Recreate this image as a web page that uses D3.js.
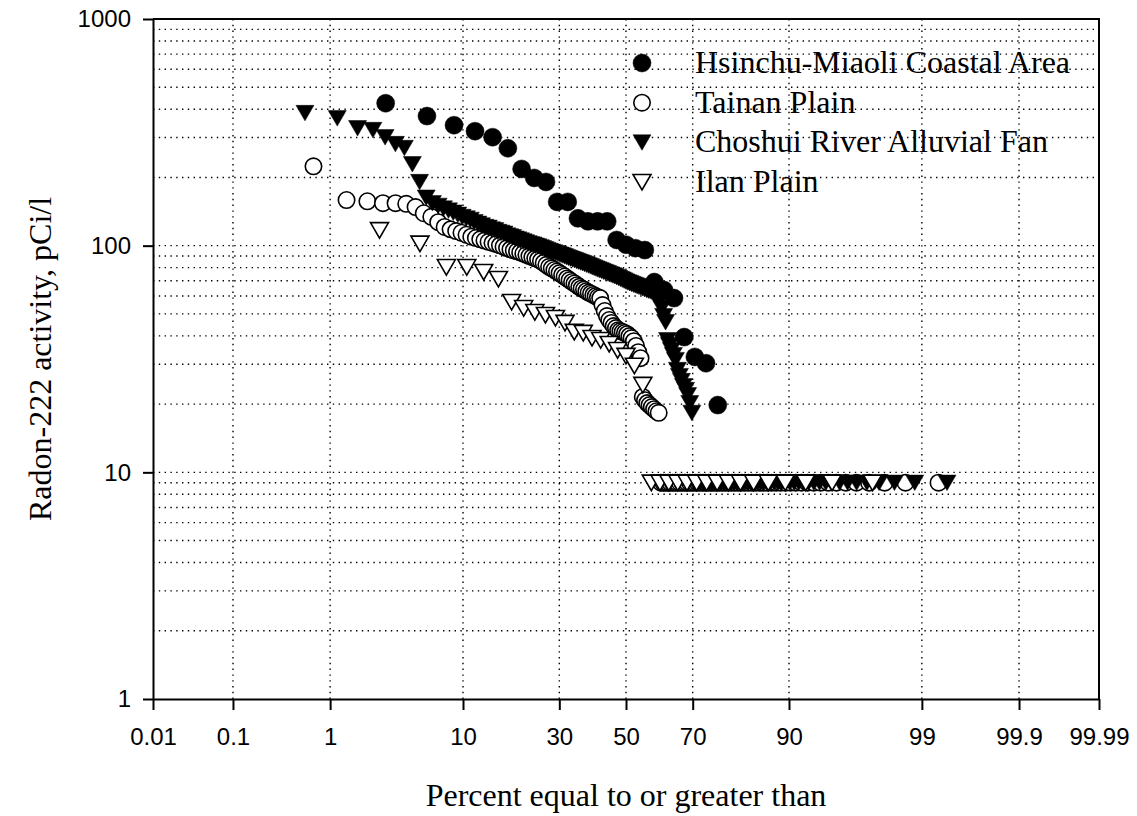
<!DOCTYPE html>
<html>
<head>
<meta charset="utf-8">
<script src="https://cdn.jsdelivr.net/npm/d3@7"></script>
<style>
  html, body { margin: 0; padding: 0; background: #fff; }
  svg { display: block; }
</style>
</head>
<body>
<div id="chart"></div>
<script>
// ---- data ----
var xTickValues = [0.01, 0.1, 1, 10, 30, 50, 70, 90, 99, 99.9, 99.99];
var xTickLabels = ["0.01", "0.1", "1", "10", "30", "50", "70", "90", "99", "99.9", "99.99"];
var xGridValues = [0.1, 1, 10, 30, 50, 70, 90, 99, 99.9];
var yTickValues = [1, 10, 100, 1000];
var seriesNames = ["Hsinchu-Miaoli Coastal Area", "Tainan Plain", "Choshui River Alluvial Fan", "Ilan Plain"];

// samples below the reporting level are plotted at this value
var belowLimitValue = 9;

var hsinchuPct = [2.94, 5.88, 8.82, 11.76, 14.71, 17.65, 20.59, 23.53, 26.47, 29.41, 32.35, 35.29, 38.24,
  41.18, 44.12, 47.06, 50.00, 52.94, 55.88, 58.82, 61.76, 64.71, 67.65, 70.59, 73.53, 76.47];
var hsinchuVal = [425, 373, 340, 320, 301, 269, 218, 199, 191, 156, 156, 132, 128,
  128, 128, 106, 101, 97.5, 95.6, 69.1, 63.7, 58.7, 39.5, 32.3, 30.3, 19.8];

var tainanPct = [0.70, 1.40, 2.10, 2.80, 3.50, 4.20, 4.90, 5.59, 6.29, 6.99, 7.69, 8.39, 9.09, 9.79,
  10.49, 11.19, 11.89, 12.59, 13.29, 13.99, 14.69, 15.38, 16.08, 16.78, 17.48, 18.18, 18.88, 19.58,
  20.28, 20.98, 21.68, 22.38, 23.08, 23.78, 24.48, 25.17, 25.87, 26.57, 27.27, 27.97, 28.67, 29.37,
  30.07, 30.77, 31.47, 32.17, 32.87, 33.57, 34.27, 34.97, 35.66, 36.36, 37.06, 37.76, 38.46, 39.16,
  39.86, 40.56, 41.26, 41.96, 42.66, 43.36, 44.06, 44.76, 45.45, 46.15, 46.85, 47.55, 48.25, 48.95,
  49.65, 50.35, 51.05, 51.75, 52.45, 53.15, 53.85, 54.55, 55.24, 55.94, 56.64, 57.34, 58.04, 58.74,
  59.44, 60.14];
var tainanVal = [224, 159, 157, 154, 154, 153, 148, 139, 134, 127, 121, 118, 116, 114,
  111.7, 109.6, 108.1, 106.7, 105.3, 104.0, 102.8, 101.6, 100.3, 99.0, 97.6, 96.3, 95.3, 94.4,
  93.4, 92.3, 91.1, 90.0, 89.0, 87.9, 86.9, 85.6, 83.9, 82.3, 80.7, 79.4, 78.1, 76.9,
  75.7, 74.3, 73.1, 71.7, 70.5, 69.2, 68.1, 66.9, 65.8, 64.8, 64.0, 63.0, 62.1, 61.4,
  60.6, 59.9, 59.2, 58.7, 54.7, 51.5, 48.9, 47.0, 45.6, 44.2, 43.3, 42.4, 42.0, 41.6,
  41.2, 40.7, 39.9, 39.1, 37.9, 36.1, 33.9, 31.9, 21.5, 20.8, 20.2, 19.8, 19.4, 19.0,
  18.6, 18.3];
var tainanLowPct = [60.84, 61.54, 62.24, 62.94, 63.64, 64.34, 65.03, 65.73, 66.43, 67.13, 67.83,
  68.53, 69.23, 69.93, 70.63, 71.33, 72.03, 72.73, 73.43, 74.13, 74.83, 75.52, 76.22, 76.92, 77.62,
  78.32, 79.02, 79.72, 80.42, 81.12, 81.82, 82.52, 83.22, 83.92, 84.62, 85.31, 86.01, 86.71, 87.41,
  88.11, 88.81, 89.51, 90.21, 90.91, 91.61, 92.31, 93.01, 93.71, 94.41, 95.10, 95.80, 96.50, 97.20,
  97.90, 98.60, 99.30];

var choshuiPct = [0.58, 1.16, 1.74, 2.33, 2.91, 3.49, 4.07, 4.65, 5.23, 5.81, 6.40, 6.98, 7.56, 8.14,
  8.72, 9.30, 9.88, 10.47, 11.05, 11.63, 12.21, 12.79, 13.37, 13.95, 14.53, 15.12, 15.70, 16.28,
  16.86, 17.44, 18.02, 18.60, 19.19, 19.77, 20.35, 20.93, 21.51, 22.09, 22.67, 23.26, 23.84, 24.42,
  25.00, 25.58, 26.16, 26.74, 27.33, 27.91, 28.49, 29.07, 29.65, 30.23, 30.81, 31.40, 31.98, 32.56,
  33.14, 33.72, 34.30, 34.88, 35.47, 36.05, 36.63, 37.21, 37.79, 38.37, 38.95, 39.53, 40.12, 40.70,
  41.28, 41.86, 42.44, 43.02, 43.60, 44.19, 44.77, 45.35, 45.93, 46.51, 47.09, 47.67, 48.26, 48.84,
  49.42, 50.00, 50.58, 51.16, 51.74, 52.33, 52.91, 53.49, 54.07, 54.65, 55.23, 55.81, 56.40, 56.98,
  57.56, 58.14, 58.72, 59.30, 59.88, 60.47, 61.05, 61.63, 62.21, 62.79, 63.37, 63.95, 64.53, 65.12,
  65.70, 66.28, 66.86, 67.44, 68.02, 68.60, 69.19, 69.77];
var choshuiVal = [385, 365, 330, 324, 301, 281, 270, 229, 191, 163, 154, 150, 146, 143,
  140, 137, 134, 132, 130, 127, 125, 123, 121, 120, 118, 117, 115, 114,
  113, 111, 110, 109, 107.5, 106.5, 105.5, 104.5, 103.5, 102.5, 101.5, 101, 100, 99.3,
  98.4, 97.5, 96.6, 95.7, 94.8, 94.1, 93.4, 92.7, 92.0, 91.3, 90.6, 89.9, 89.1, 88.4,
  87.7, 87.0, 86.4, 85.7, 85.1, 84.4, 83.8, 83.2, 82.5, 81.8, 81.2, 80.5, 79.9, 79.2,
  78.6, 78.0, 77.4, 76.8, 76.2, 75.6, 75.0, 74.5, 73.9, 73.4, 72.7, 72.1, 71.4, 70.8,
  70.2, 69.5, 68.9, 68.4, 67.9, 67.4, 66.9, 66.4, 65.9, 65.4, 64.9, 64.4, 63.9, 63.4,
  63.1, 62.4, 61.2, 59.9, 58.7, 56.9, 53.0, 48.9, 46.0, 38.3, 36.4, 34.6, 32.9, 31.3,
  28.3, 26.6, 25.3, 24.0, 23.1, 21.9, 20.2, 18.3];
var choshuiLowPct = [70.35, 70.93, 71.51, 72.09, 72.67, 73.26, 73.84, 74.42, 75.00, 75.58, 76.16,
  76.74, 77.33, 77.91, 78.49, 79.07, 79.65, 80.23, 80.81, 81.40, 81.98, 82.56, 83.14, 83.72, 84.30,
  84.88, 85.47, 86.05, 86.63, 87.21, 87.79, 88.37, 88.95, 89.53, 90.12, 90.70, 91.28, 91.86, 92.44,
  93.02, 93.60, 94.19, 94.77, 95.35, 95.93, 96.51, 97.09, 97.67, 98.26, 98.84, 99.42];

var ilanPct = [2.63, 5.26, 7.89, 10.53, 13.16, 15.79, 18.42, 21.05, 23.68, 26.32, 28.95, 31.58,
  34.21, 36.84, 39.47, 42.11, 44.74, 47.37, 50.00, 52.63, 55.26];
var ilanVal = [117, 102, 80.4, 80.4, 76.5, 71.2, 56.4, 53.0, 50.9, 49.4, 47.9, 45.6,
  41.6, 41.2, 39.1, 38.3, 36.8, 34.6, 32.6, 29.5, 24.3];
var ilanLowPct = [57.89, 60.53, 63.16, 65.79, 68.42, 71.05, 73.68, 76.32, 78.95, 81.58, 84.21,
  86.84, 89.47, 92.11, 94.74, 97.37];

// ---- normal probability scale ----
// inverse normal CDF (Acklam's rational approximation)
function probit(p) {
  var a = [-39.69683028665376, 220.9460984245205, -275.9285104469687, 138.3577518672690, -30.66479806614716, 2.506628277459239];
  var b = [-54.47609879822406, 161.5858368580409, -155.6989798598866, 66.80131188771972, -13.28068155288572];
  var c = [-0.007784894002430293, -0.3223964580411365, -2.400758277161838, -2.549732539343734, 4.374664141464968, 2.938163982698783];
  var d = [0.007784695709041462, 0.3224671290700398, 2.445134137142996, 3.754408661907416];
  var q, r;
  if (p < 0.02425) {
    q = Math.sqrt(-2 * Math.log(p));
    return (((((c[0] * q + c[1]) * q + c[2]) * q + c[3]) * q + c[4]) * q + c[5]) /
      ((((d[0] * q + d[1]) * q + d[2]) * q + d[3]) * q + 1);
  }
  if (p > 1 - 0.02425) {
    q = Math.sqrt(-2 * Math.log(1 - p));
    return -(((((c[0] * q + c[1]) * q + c[2]) * q + c[3]) * q + c[4]) * q + c[5]) /
      ((((d[0] * q + d[1]) * q + d[2]) * q + d[3]) * q + 1);
  }
  q = p - 0.5;
  r = q * q;
  return (((((a[0] * r + a[1]) * r + a[2]) * r + a[3]) * r + a[4]) * r + a[5]) * q /
    (((((b[0] * r + b[1]) * r + b[2]) * r + b[3]) * r + b[4]) * r + 1);
}

// percent -> pixel, shaped like a d3 scale so d3.axis can use it
function scaleProbability() {
  var lin = d3.scaleLinear(), dom = [50, 50];
  function scale(pct) { return lin(probit(pct / 100)); }
  scale.domain = function(_) {
    if (!arguments.length) return dom.slice();
    dom = _.slice();
    lin.domain(dom.map(function(p) { return probit(p / 100); }));
    return scale;
  };
  scale.range = function(_) {
    if (!arguments.length) return lin.range();
    lin.range(_);
    return scale;
  };
  scale.copy = function() { return scaleProbability().domain(dom).range(lin.range()); };
  return scale;
}

// ---- layout ----
var W = 1137, H = 816;
var margin = { top: 19, right: 38, bottom: 117, left: 153 };
var x0 = margin.left, x1 = W - margin.right, y0 = margin.top, y1 = H - margin.bottom;

var x = scaleProbability().domain([0.01, 99.99]).range([x0, x1]);
var y = d3.scaleLog().domain([1, 1000]).range([y1, y0]);

var svg = d3.select("#chart").append("svg")
  .attr("width", W)
  .attr("height", H);

// grid
var yGridValues = [];
[1, 10, 100].forEach(function(dec) {
  for (var k = 2; k <= 9; k++) yGridValues.push(dec * k);
  if (dec > 1) yGridValues.push(dec);
});

var grid = svg.append("g")
  .attr("stroke", "#000")
  .attr("stroke-width", 1.4)
  .attr("stroke-dasharray", "1.4,4.4");

grid.selectAll(".vg").data(xGridValues).enter().append("line")
  .attr("x1", function(d) { return x(d); })
  .attr("x2", function(d) { return x(d); })
  .attr("y1", y0)
  .attr("y2", y1);

grid.selectAll(".hg").data(yGridValues).enter().append("line")
  .attr("x1", x0)
  .attr("x2", x1)
  .attr("y1", function(d) { return y(d); })
  .attr("y2", function(d) { return y(d); });

// markers
var triDown = "M-9,-7.6L9,-7.6L0,7.9Z";

function plotCircles(pts, filled) {
  svg.append("g").selectAll("circle").data(pts).enter().append("circle")
    .attr("cx", function(d) { return x(d[0]); })
    .attr("cy", function(d) { return y(d[1]); })
    .attr("r", filled ? 9 : 8.2)
    .attr("fill", filled ? "#000" : "#fff")
    .attr("stroke", "#000")
    .attr("stroke-width", filled ? 0.5 : 1.6);
}

function plotTriangles(pts, filled) {
  svg.append("g").selectAll("path").data(pts).enter().append("path")
    .attr("d", triDown)
    .attr("transform", function(d) { return "translate(" + x(d[0]) + "," + y(d[1]) + ")"; })
    .attr("fill", filled ? "#000" : "#fff")
    .attr("stroke", "#000")
    .attr("stroke-width", filled ? 0.5 : 1.6)
    .attr("stroke-linejoin", "miter");
}

function withLow(pct, val, lowPct) {
  var pts = d3.zip(pct, val);
  (lowPct || []).forEach(function(p) { pts.push([p, belowLimitValue]); });
  return pts;
}

plotCircles(withLow(hsinchuPct, hsinchuVal), true);
plotCircles(withLow(tainanPct, tainanVal, tainanLowPct), false);
plotTriangles(withLow(choshuiPct, choshuiVal, choshuiLowPct), true);
plotTriangles(withLow(ilanPct, ilanVal, ilanLowPct), false);

// axes
var xAxis = svg.append("g")
  .attr("transform", "translate(0," + y1 + ")")
  .call(d3.axisBottom(x)
    .tickValues(xTickValues)
    .tickFormat(function(d, i) { return xTickLabels[i]; })
    .tickSizeInner(11)
    .tickSizeOuter(0)
    .tickPadding(18));

var yAxis = svg.append("g")
  .attr("transform", "translate(" + x0 + ",0)")
  .call(d3.axisLeft(y)
    .tickValues(yTickValues)
    .tickFormat(d3.format("d"))
    .tickSizeInner(10)
    .tickSizeOuter(0)
    .tickPadding(12));

[xAxis, yAxis].forEach(function(a) {
  a.attr("font-family", "'Liberation Sans', Arial, sans-serif").attr("font-size", 24);
  a.selectAll("path, line").attr("stroke", "#000").attr("stroke-width", 2);
  a.selectAll("text").attr("fill", "#000");
});

// frame (top + right)
svg.append("path")
  .attr("d", "M" + x0 + "," + y0 + "H" + x1 + "V" + y1)
  .attr("fill", "none")
  .attr("stroke", "#000")
  .attr("stroke-width", 2);

// axis titles
svg.append("text")
  .attr("x", (x0 + x1) / 2)
  .attr("y", 806)
  .attr("text-anchor", "middle")
  .attr("font-family", "'Liberation Serif', 'Times New Roman', serif")
  .attr("font-size", 32)
  .text("Percent equal to or greater than");

svg.append("text")
  .attr("transform", "translate(51," + ((y0 + y1) / 2) + ") rotate(-90)")
  .attr("text-anchor", "middle")
  .attr("font-family", "'Liberation Serif', 'Times New Roman', serif")
  .attr("font-size", 32)
  .text("Radon-222 activity, pCi/l");

// legend
var legend = svg.append("g").attr("transform", "translate(642,63)");
var legendRows = legend.selectAll("g").data(seriesNames).enter().append("g")
  .attr("transform", function(d, i) { return "translate(0," + (i * 39.7) + ")"; });

legendRows.each(function(d, i) {
  var row = d3.select(this);
  if (i < 2) {
    row.append("circle").attr("r", i === 0 ? 9 : 8.2)
      .attr("fill", i === 0 ? "#000" : "#fff")
      .attr("stroke", "#000").attr("stroke-width", i === 0 ? 0.5 : 1.6);
  } else {
    row.append("path").attr("d", triDown)
      .attr("fill", i === 2 ? "#000" : "#fff")
      .attr("stroke", "#000").attr("stroke-width", i === 2 ? 0.5 : 1.6);
  }
  row.append("text")
    .attr("x", 53)
    .attr("y", 10)
    .attr("font-family", "'Liberation Serif', 'Times New Roman', serif")
    .attr("font-size", 32)
    .text(d);
});
</script>
</body>
</html>
